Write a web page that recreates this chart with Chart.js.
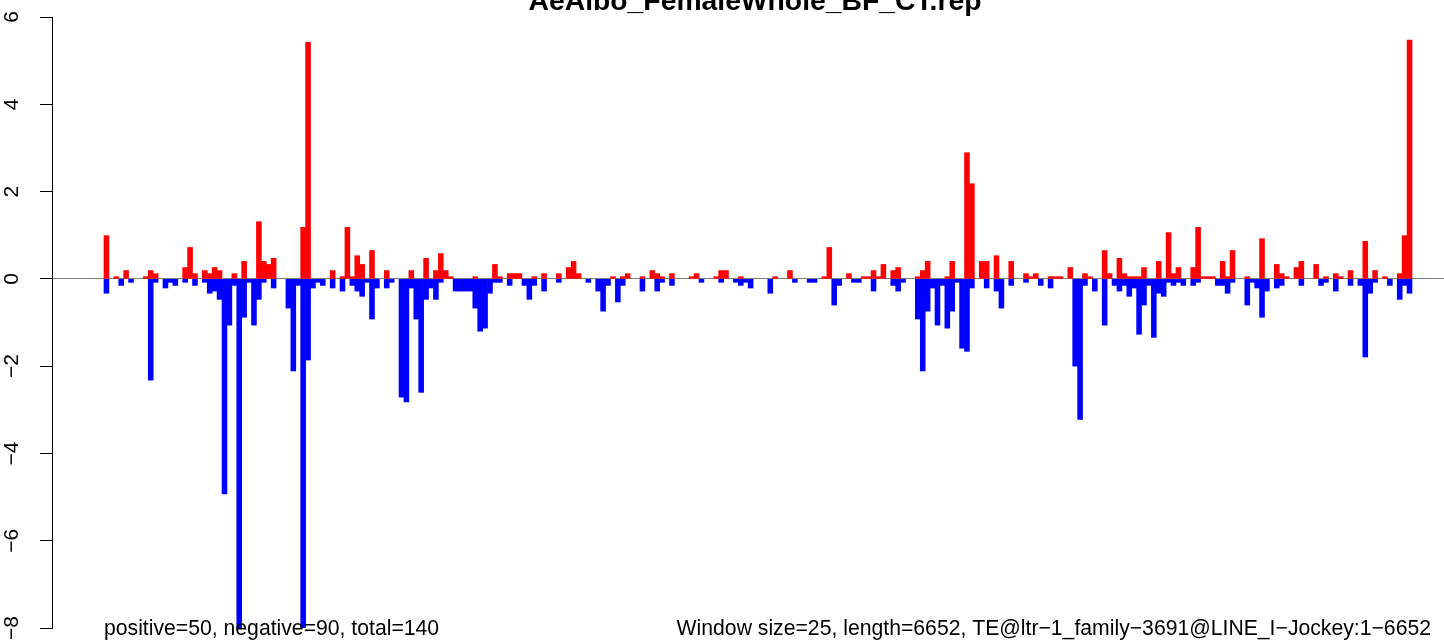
<!DOCTYPE html>
<html><head><meta charset="utf-8">
<script src="https://cdn.jsdelivr.net/npm/chart.js@4/dist/chart.umd.min.js"></script>
<style>html,body{margin:0;padding:0;background:#fff;overflow:hidden}canvas{display:block}</style>
</head><body>
<canvas id="c" width="1444" height="643"></canvas>
<script>
const titleText = "AeAlbo_FemaleWhole_BF_CT.rep";
const leftNote = "positive=50, negative=90, total=140";
const rightNote = "Window size=25, length=6652, TE@ltr\u22121_family\u22123691@LINE_I\u2212Jockey:1\u22126652";
const yTicks = [-8, -6, -4, -2, 0, 2, 4, 6];

const positive = [
 0.99,0,0.05,0,0.19,0,0,0,0.05,0.19,
 0.12,0,0,0,0,0,0.26,0.72,0.12,0,
 0.19,0.12,0.26,0.19,0,0,0.12,0,0.40,0,
 0,1.31,0.40,0.33,0.47,0,0,0,0,0,
 1.18,5.42,0,0,0,0,0.19,0,0.05,1.18,
 0.05,0.53,0.33,0,0.65,0,0,0.19,0,0,
 0,0,0.19,0,0,0.47,0,0.19,0.58,0.19,
 0.05,0,0,0,0,0.05,0,0,0,0.33,
 0.05,0,0.12,0.12,0.12,0,0,0.05,0,0.12,
 0,0,0.12,0,0.26,0.40,0.12,0,0,0,
 0,0,0,0.05,0,0.05,0.12,0,0,0.05,
 0,0.19,0.12,0.05,0,0.12,0,0,0,0.05,
 0.12,0,0,0,0.05,0.19,0.19,0,0,0.05,
 0,0,0,0,0,0,0.05,0,0,0.19,
 0,0,0,0,0,0,0.05,0.72,0,0,
 0,0.12,0,0,0.05,0.05,0.19,0.05,0.33,0,
 0.19,0.26,0,0,0,0.05,0.19,0.40,0,0,
 0,0.05,0.40,0,0,2.89,2.18,0,0.40,0.40,
 0,0.53,0,0,0.40,0,0,0.12,0.05,0.12,
 0,0,0.05,0.05,0.05,0,0.26,0,0,0.12,
 0.05,0,0,0.65,0.12,0,0.47,0.12,0.05,0.05,
 0.05,0.26,0,0,0.40,0,1.06,0.12,0.26,0,
 0,0.26,1.18,0.05,0.05,0.05,0,0.40,0.05,0.65,
 0,0,0.05,0,0,0.92,0,0,0.33,0.12,
 0.05,0,0.26,0.40,0,0,0.33,0,0.05,0,
 0.12,0.05,0,0.19,0,0,0.86,0,0.19,0,
 0.05,0,0,0.12,0.99,5.47
];

const negative = [
 -0.33,0,0,-0.15,0,-0.08,0,0,0,-2.32,
 -0.08,0,-0.21,-0.08,-0.15,0,-0.08,0,-0.15,0,
 -0.08,-0.33,-0.28,-0.47,-4.93,-1.06,-0.15,-8,-0.88,-0.08,
 -1.06,-0.47,-0.08,0,-0.21,0,0,-0.67,-2.11,-0.15,
 -8,-1.86,-0.21,-0.08,-0.15,0,-0.21,0,-0.28,0,
 -0.15,-0.28,-0.40,-0.08,-0.92,-0.21,0,-0.21,-0.08,0,
 -2.71,-2.82,-0.21,-0.92,-2.6,-0.47,-0.21,-0.47,-0.08,0,
 0,-0.28,-0.28,-0.28,-0.28,-0.67,-1.2,-1.13,-0.33,-0.08,
 -0.08,0,-0.15,0,0,-0.15,-0.47,-0.15,0,-0.28,
 0,0,-0.08,0,0,0,0,0,-0.08,0,
 -0.28,-0.74,-0.15,0,-0.53,-0.15,0,0,0,-0.28,
 0,0,-0.28,-0.08,0,-0.15,0,0,0,0,
 0,-0.08,0,0,0,-0.08,0,0,-0.08,-0.15,
 -0.08,-0.21,0,0,0,-0.33,0,0,0,0,
 -0.08,0,0,-0.08,-0.08,0,0,0,-0.60,-0.15,
 0,0,-0.08,-0.08,0,0,-0.28,0,0,0,
 -0.15,-0.28,-0.08,0,0,-0.92,-2.11,-0.74,-0.21,-1.06,
 -0.15,-1.13,-0.74,-0.08,-1.59,-1.66,-0.21,0,0,-0.21,
 0,-0.28,-0.67,0,-0.15,0,0,-0.08,0,0,
 -0.15,0,-0.21,0,0,0,0,-2.0,-3.22,-0.15,
 0,-0.28,0,-1.06,0,-0.15,-0.28,-0.15,-0.40,-0.21,
 -1.27,-0.60,-0.15,-1.34,-0.33,-0.40,-0.08,-0.15,-0.08,-0.15,
 0,-0.15,-0.08,0,0,0,-0.15,-0.15,-0.33,-0.08,
 0,0,-0.60,-0.08,-0.21,-0.88,-0.28,0,-0.21,-0.15,
 0,0,0,-0.15,0,0,0,-0.15,-0.08,0,
 -0.28,0,0,-0.15,0,-0.15,-1.79,-0.33,-0.08,0,
 0,-0.15,0,-0.47,-0.15,-0.33
];

const windows = positive.map((_, i) => i);
const toPoints = arr => windows.map(i => ({ x: i, y: arr[i] === 0 ? null : arr[i] }));
const fmt = v => v < 0 ? '\u2212' + Math.abs(v) : String(v);

const textPlugin = {
  id: 'rtexts',
  afterDraw(chart) {
    const ctx = chart.ctx;
    ctx.save();
    ctx.fillStyle = '#000';
    ctx.textBaseline = 'alphabetic';
    ctx.font = 'bold 28.3px "Liberation Sans", Arial, sans-serif';
    ctx.textAlign = 'center';
    ctx.fillText(titleText, 755, 10);
    ctx.font = '21.2px "Liberation Sans", Arial, sans-serif';
    ctx.textAlign = 'left';
    ctx.fillText(leftNote, 104, 635);
    ctx.textAlign = 'right';
    ctx.fillText(rightNote, 1431, 635);
    ctx.restore();
  }
};

new Chart(document.getElementById('c').getContext('2d'), {
  type: 'bar',
  data: {
    datasets: [
      { data: toPoints(positive), backgroundColor: '#ff0000', borderWidth: 0, grouped: false },
      { data: toPoints(negative), backgroundColor: '#0000ff', borderWidth: 0, grouped: false }
    ]
  },
  options: {
    responsive: false,
    animation: false,
    devicePixelRatio: 1,
    barPercentage: 1,
    categoryPercentage: 1,
    layout: { padding: { left: 0, right: 0, top: 17, bottom: 15 } },
    plugins: { legend: { display: false }, tooltip: { enabled: false }, title: { display: false } },
    scales: {
      x: {
        type: 'linear', min: -11.075, max: 272.008, display: false, offset: false,
        bounds: 'data', grid: { offset: false },
        afterFit: s => { s.paddingLeft = 0; s.paddingRight = 0; }
      },
      y: {
        min: -8, max: 6,
        afterBuildTicks: s => { s.ticks = yTicks.map(v => ({ value: v })); },
        afterFit: s => { s.width = 52; s.paddingTop = 0; s.paddingBottom = 0; },
        ticks: {
          autoSkip: false, minRotation: 90, maxRotation: 90, crossAlign: 'center', padding: 16,
          color: '#000', font: { family: '"Liberation Sans", Arial, sans-serif', size: 21 },
          callback: v => fmt(v)
        },
        grid: {
          drawOnChartArea: true,
          color: c => (c.tick && c.tick.value === 0) ? '#7f7f7f' : 'rgba(0,0,0,0)',
          tickColor: '#000', tickLength: 12, lineWidth: 1
        },
        border: { display: true, color: '#000', width: 1 }
      }
    }
  },
  plugins: [textPlugin]
});
</script>
</body></html>
